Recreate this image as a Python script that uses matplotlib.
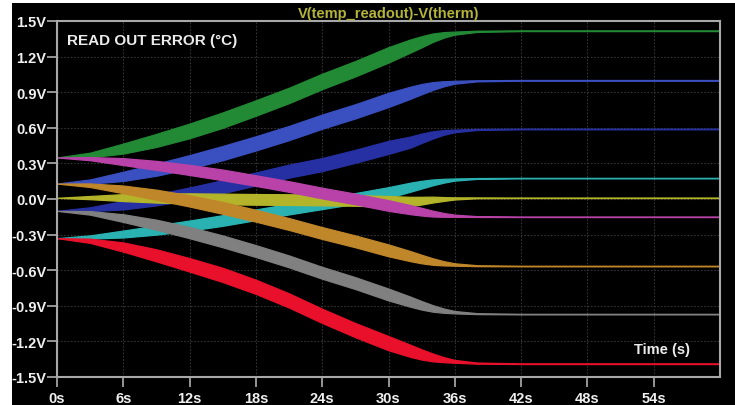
import matplotlib
matplotlib.use("Agg")
import matplotlib.pyplot as plt
from matplotlib.patches import Rectangle
import numpy as np

plt.rcParams['font.family'] = ['Liberation Sans', 'DejaVu Sans']

# sample times (s)
t = [0, 3, 6, 9, 12, 15, 18, 21, 24, 27, 30, 32, 33, 34, 35, 36, 38, 42, 60]

# centre of each trace (V)
green = [0.35, 0.371, 0.425, 0.494, 0.574, 0.665, 0.767, 0.873, 0.991, 1.098, 1.215, 1.29, 1.325, 1.359, 1.383, 1.398, 1.413, 1.418, 1.418]
blue = [0.13, 0.147, 0.191, 0.247, 0.313, 0.387, 0.469, 0.556, 0.652, 0.739, 0.835, 0.896, 0.926, 0.952, 0.971, 0.984, 0.996, 1.0, 1.0]
navy = [-0.10, -0.086, -0.052, -0.007, 0.045, 0.104, 0.169, 0.235, 0.29, 0.36, 0.435, 0.48, 0.512, 0.54, 0.561, 0.574, 0.586, 0.59, 0.59]
cyan = [-0.33, -0.32, -0.295, -0.262, -0.224, -0.181, -0.133, -0.085, -0.04, 0.005, 0.055, 0.1, 0.121, 0.14, 0.154, 0.164, 0.173, 0.176, 0.176]
yellow = [0.01, 0.012, 0.012, 0.008, 0.005, 0.0, -0.003, -0.005, -0.008, -0.012, -0.02, -0.02, -0.014, -0.005, 0.0, 0.005, 0.01, 0.01, 0.01]
magenta = [0.35, 0.34, 0.315, 0.283, 0.245, 0.203, 0.155, 0.105, 0.05, 0.0, -0.055, -0.09, -0.107, -0.123, -0.134, -0.141, -0.148, -0.15, -0.15]
orange = [0.13, 0.116, 0.081, 0.036, -0.016, -0.075, -0.141, -0.211, -0.287, -0.357, -0.433, -0.482, -0.506, -0.527, -0.542, -0.552, -0.562, -0.565, -0.565]
gray = [-0.10, -0.117, -0.161, -0.217, -0.283, -0.357, -0.439, -0.526, -0.622, -0.709, -0.805, -0.866, -0.896, -0.922, -0.941, -0.954, -0.966, -0.97, -0.97]
red = [-0.33, -0.352, -0.405, -0.475, -0.555, -0.64, -0.74, -0.855, -0.985, -1.105, -1.215, -1.28, -1.31, -1.335, -1.354, -1.368, -1.383, -1.388, -1.388]

# ripple envelope (relative) and peak half-width of each trace (V)
ripple = [0.0, 0.3, 0.65, 0.85, 0.95, 1.0, 1.0, 1.0, 1.0, 1.0, 1.0, 0.85, 0.72, 0.55, 0.36, 0.2, 0.08, 0.05, 0.05]
traces = [
    (green, 0.065, '#228a34'),
    (blue, 0.06, '#3a4fc0'),
    (navy, 0.055, '#2630a2'),
    (cyan, 0.045, '#2ab2b2'),
    (yellow, 0.045, '#b4b42a'),
    (magenta, 0.045, '#b842a8'),
    (orange, 0.05, '#c0862a'),
    (gray, 0.05, '#808080'),
    (red, 0.06, '#e8102a'),
]

xticks = [0, 6, 12, 18, 24, 30, 36, 42, 48, 54]
yticks = [-1.5, -1.2, -0.9, -0.6, -0.3, 0.0, 0.3, 0.6, 0.9, 1.2, 1.5]

fig = plt.figure(figsize=(7.35, 4.06), dpi=100, facecolor='white')
fig.add_artist(Rectangle((12 / 735, 0), 1, 402 / 406, transform=fig.transFigure,
                         facecolor='black', edgecolor='none', zorder=-1))
ax = fig.add_axes([57 / 735, 28 / 406, 663 / 735, 356 / 406])
ax.set_facecolor('black')

rip = np.array(ripple)
for vals, hw, col in traces:
    v = np.array(vals)
    ax.fill_between(t, v - hw * rip, v + hw * rip, color=col, linewidth=0.9, edgecolor=col)

ax.set_xlim(0, 60)
ax.set_ylim(-1.5, 1.5)
ax.set_xticks(xticks)
ax.set_xticklabels([f"{x}s" for x in xticks])
ax.set_yticks(yticks)
ax.set_yticklabels([f"{y:.1f}V" for y in yticks])
ax.grid(True, color='#343434', linestyle=(0, (1.5, 1.5)), linewidth=0.8)
ax.set_axisbelow(True)
for s in ax.spines.values():
    s.set_color('#a8a8a8')
    s.set_linewidth(1.5)
ax.tick_params(colors='#b0b0b0', length=7, width=1.2, labelcolor='#f0f0f0',
               labelsize=10.5)
ax.tick_params(axis='y', pad=0.5)
ax.tick_params(axis='x', pad=3)
for lab in ax.get_xticklabels() + ax.get_yticklabels():
    lab.set_fontweight('bold')

ax.set_title('V(temp_readout)-V(therm)', color='#b4b43a', fontsize=10.5,
             fontweight='bold', pad=3)
ax.text(0.015, 0.965, 'READ OUT ERROR (°C)', transform=ax.transAxes, color='#ececec',
        fontsize=11, fontweight='bold', ha='left', va='top')
ax.text(0.955, 0.08, 'Time (s)', transform=ax.transAxes, color='#ececec',
        fontsize=10.5, fontweight='bold', ha='right', va='center')

fig.savefig('out.png', dpi=100, facecolor=fig.get_facecolor())
